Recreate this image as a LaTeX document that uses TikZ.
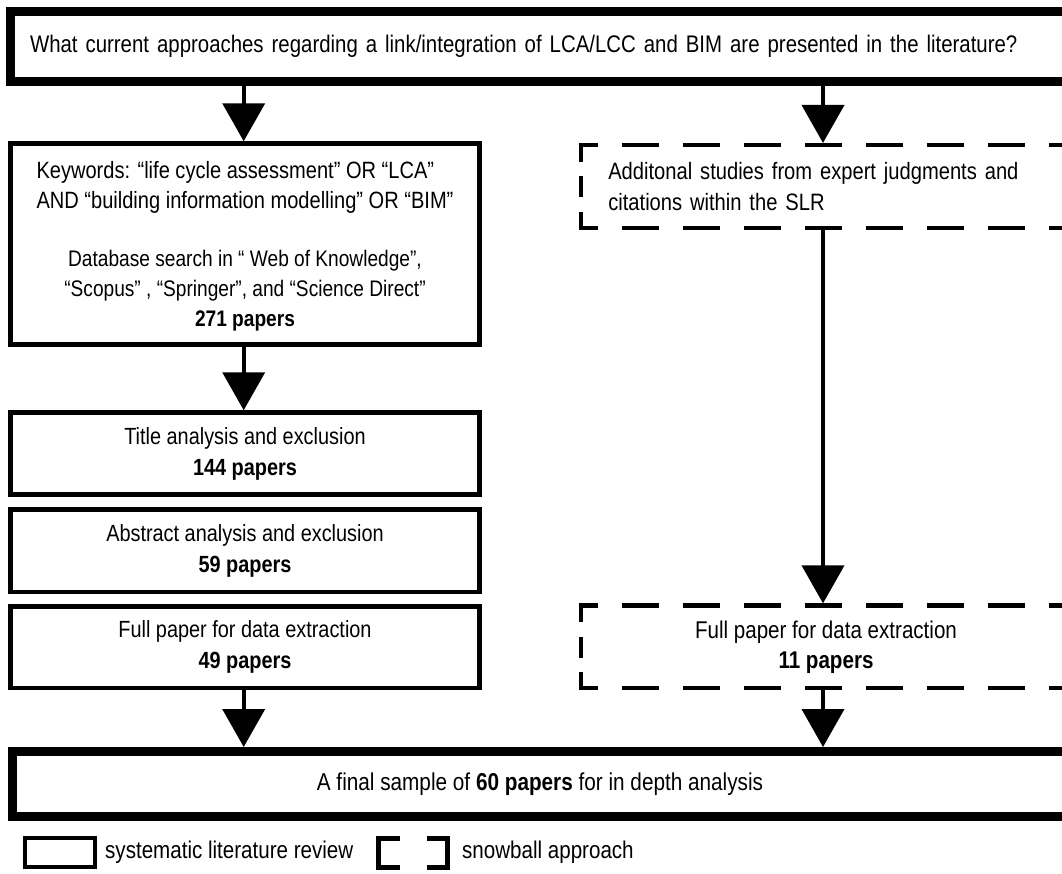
\documentclass[tikz,border=0pt]{standalone}
\usepackage{fontspec}
\setmainfont[FakeStretch=0.85]{Liberation Sans}
\usetikzlibrary{arrows.meta}
\begin{document}
\begin{tikzpicture}[x=1pt,y=-1pt,
  every node/.style={font=\fontsize{23.4}{31}\selectfont, inner sep=0pt},
  bigbox/.style={draw, line width=9pt, align=center},
  slrbox/.style={draw, line width=4.5pt, align=center, minimum width=469pt},
  dbox/.style={outer sep=0pt, minimum width=490pt, minimum height=82.6pt},
  dashh/.style={line width=4.5pt, dash pattern=on 37.3pt off 23.7pt, dash phase=18pt},
  dashv/.style={line width=4.5pt, dash pattern=on 21pt off 14.5pt, dash phase=2.25pt},
  brk/.style={line width=5pt},
  arr/.style={line width=4pt, -{Triangle[length=38pt,width=42pt]}}]
\useasboundingbox (0,0) rectangle (1062,873);
\clip (0,0) rectangle (1062,873);
\fill[white] (0,0) rectangle (1062,873);

% boxes
\node[bigbox, minimum width=1059.5pt, minimum height=70pt, text width=1020.5pt, align=left,
      font=\fontsize{24}{31}\selectfont] (top) at (540.25,46.5)
  {What current approaches regarding a link/integration of LCA/LCC and BIM are presented in the literature?};

\node[slrbox, minimum height=201pt, font=\fontsize{22.5}{30}\selectfont] (k1) at (245,244)
  {\fontsize{23.6}{30}\selectfont\begin{tabular}[b]{@{}l@{}}Keywords: “life cycle assessment” OR “LCA”\\AND “building information modelling” OR “BIM”\end{tabular}\\[28pt]
   Database search in “ Web of Knowledge”,\\“Scopus” , “Springer”, and “Science Direct”\\\textbf{271 papers}};

\node[slrbox, minimum height=82pt] (t2) at (245,453.5) {Title analysis and exclusion\\\textbf{144 papers}};
\node[slrbox, minimum height=82.3pt] (a3) at (245,550.6) {Abstract analysis and exclusion\\\textbf{59 papers}};
\node[slrbox, minimum height=81.5pt] (f4) at (245,647.3) {Full paper for data extraction\\\textbf{49 papers}};

\node[dbox, text width=435.4pt, align=left, font=\fontsize{23.7}{31.5}\selectfont] (d1) at (826,186.5)
  {Additonal studies from expert judgments and\\citations within the SLR};
\node[dbox, align=center, font=\fontsize{24.2}{30}\selectfont] (d2) at (826,646.9) {Full paper for data extraction\\\textbf{11 papers}};

\node[bigbox, minimum width=1054.4pt, minimum height=64.5pt, font=\fontsize{24.4}{31}\selectfont] (fin) at (540,783.75)
  {A final sample of \textbf{60 papers} for in depth analysis};

% dashed borders
\foreach \d in {d1,d2}{
  \draw[dashh] ([xshift=-2.25pt]\d.north west) -- (\d.north east);
  \draw[dashh] ([xshift=-2.25pt]\d.south west) -- (\d.south east);
  \draw[dashv] ([yshift=2.25pt]\d.north west) -- ([yshift=-2.25pt]\d.south west);
  \draw[dashv] ([yshift=2.25pt]\d.north east) -- ([yshift=-2.25pt]\d.south east);
}

% connectors
\coordinate (xl) at (243.7,0);
\coordinate (xr) at (823,0);
\draw[arr] (top.south -| xl) -- (k1.north -| xl);
\draw[arr, shorten >=2.25pt] (top.south -| xr) -- (d1.north -| xr);
\draw[arr] (k1.south -| xl) -- (t2.north -| xl);
\draw[arr, shorten >=2.25pt] (d1.south -| xr) -- (d2.north -| xr);
\draw[arr] (f4.south -| xl) -- (fin.north -| xl);
\draw[arr] (d2.south -| xr) -- (fin.north -| xr);

% legend
\node[draw, line width=4pt, minimum width=70.6pt, minimum height=29.3pt] (lbox) at (60,852.7) {};
\node[anchor=west, font=\fontsize{24.2}{30}\selectfont] (lslr) at (105,852.7) {systematic literature review};
\draw[brk] (400,838.5) -- (378.5,838.5) -- (378.5,867) -- (400,867);
\draw[brk] (426.5,838.5) -- (447.5,838.5) -- (447.5,867) -- (426.5,867);
\node[anchor=west, font=\fontsize{24.2}{30}\selectfont] (lsnow) at (462,852.7) {snowball approach};
\end{tikzpicture}
\end{document}
